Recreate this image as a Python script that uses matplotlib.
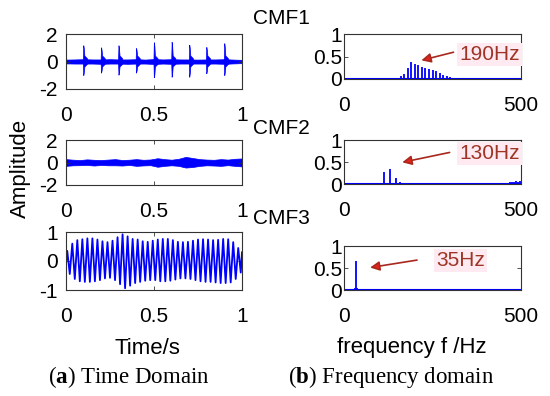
import numpy as np
import matplotlib
matplotlib.use('Agg')
import matplotlib.pyplot as plt

plt.rcParams['font.family'] = ['Liberation Sans', 'DejaVu Sans']
plt.rcParams['axes.unicode_minus'] = False
plt.rcParams['mathtext.fontset'] = 'custom'
plt.rcParams['mathtext.rm'] = 'Liberation Serif'
plt.rcParams['mathtext.bf'] = 'Liberation Serif:bold'

# ---- time domain data ----
# CMF1: impulses every ~0.1 s on a small noise band
cmf1_spike_t = [0.102, 0.203, 0.302, 0.402, 0.503, 0.604, 0.704, 0.801, 0.903]
cmf1_spike_up = [1.15, 1.0, 1.15, 0.95, 1.37, 1.4, 1.2, 1.03, 1.3]
cmf1_spike_dn = [-1.03, -0.85, -1.0, -0.85, -1.2, -1.15, -1.15, -0.9, -1.03]
cmf1_env_t = [0.0, 0.05, 0.1, 0.15, 0.2, 0.25, 0.3, 0.35, 0.4, 0.45, 0.5,
              0.55, 0.6, 0.65, 0.7, 0.75, 0.8, 0.85, 0.9, 0.95, 1.0]
cmf1_env_up = [0.14, 0.15, 0.17, 0.15, 0.15, 0.17, 0.15, 0.15, 0.17, 0.14, 0.18,
               0.15, 0.17, 0.15, 0.15, 0.14, 0.15, 0.15, 0.17, 0.14, 0.12]
cmf1_env_dn = [-0.14, -0.15, -0.15, -0.15, -0.17, -0.15, -0.15, -0.17, -0.15, -0.15, -0.18,
               -0.15, -0.17, -0.15, -0.15, -0.15, -0.15, -0.15, -0.17, -0.14, -0.12]

# CMF2: noise-like band
cmf2_env_t = [0.0, 0.04, 0.08, 0.12, 0.16, 0.2, 0.24, 0.28, 0.32, 0.36, 0.4,
              0.44, 0.48, 0.52, 0.56, 0.6, 0.64, 0.68, 0.72, 0.76, 0.8,
              0.84, 0.88, 0.92, 0.96, 1.0]
cmf2_env_up = [0.3, 0.25, 0.22, 0.28, 0.24, 0.22, 0.26, 0.3, 0.22, 0.25, 0.3,
               0.24, 0.27, 0.38, 0.3, 0.25, 0.33, 0.5, 0.4, 0.3, 0.26,
               0.24, 0.3, 0.26, 0.33, 0.36]
cmf2_env_dn = [-0.3, -0.25, -0.24, -0.22, -0.27, -0.22, -0.25, -0.25, -0.27, -0.22, -0.3,
               -0.26, -0.24, -0.38, -0.3, -0.25, -0.3, -0.45, -0.4, -0.3, -0.25,
               -0.27, -0.3, -0.24, -0.3, -0.35]

# CMF3: ~35 Hz oscillation, one peak and one trough per cycle
cmf3_peaks = [0.35, 0.6, 0.72, 0.75, 0.78, 0.78, 0.74, 0.68, 0.65, 0.7, 0.82, 0.92,
              0.85, 0.76, 0.74, 0.68, 0.66, 0.7, 0.74, 0.76, 0.76, 0.72, 0.66, 0.65,
              0.66, 0.7, 0.74, 0.75, 0.74, 0.72, 0.73, 0.76, 0.75, 0.65, 0.45]
cmf3_troughs = [-0.45, -0.62, -0.7, -0.72, -0.72, -0.7, -0.66, -0.6, -0.58, -0.66, -0.8, -0.94,
                -0.85, -0.76, -0.72, -0.68, -0.66, -0.66, -0.7, -0.7, -0.68, -0.64, -0.6, -0.6,
                -0.62, -0.66, -0.7, -0.72, -0.72, -0.74, -0.76, -0.76, -0.74, -0.62, -0.4]
cmf3_start = -0.1
cmf3_end = 0.3

# ---- frequency domain data ----
f1 = [120, 130, 140, 150, 160, 170, 180, 190, 200, 210, 220, 230, 240, 250, 260, 270, 280, 290, 300, 310, 320]
a1 = [0.01, 0.015, 0.02, 0.03, 0.06, 0.12, 0.24, 0.37, 0.33, 0.31, 0.27, 0.25, 0.22, 0.2,
      0.17, 0.13, 0.09, 0.06, 0.04, 0.02, 0.01]
f2 = [80, 100, 114, 130, 146, 157, 166, 455, 462, 468, 474, 480, 486, 492, 498]
a2 = [0.02, 0.01, 0.28, 0.33, 0.14, 0.04, 0.02, 0.02, 0.03, 0.04, 0.05, 0.05, 0.06, 0.05, 0.07]
f3 = [28, 32, 35, 38, 42, 46]
a3 = [0.02, 0.04, 0.66, 0.04, 0.03, 0.01]

names = ['CMF1', 'CMF2', 'CMF3']
peak_labels = ['190Hz', '130Hz', '35Hz']
# arrow tail/head and label position in data units
arrow_tail = [(317, 0.61), (306, 0.73), (214, 0.69)]
arrow_head = [(211, 0.40), (157, 0.48), (66, 0.50)]
label_pos = [(497, 0.55), (497, 0.70), (330, 0.67)]

W, H = 550, 396
fig = plt.figure(figsize=(W / 100, H / 100), dpi=100)


def box(x0, y0, x1, y1):
    return [x0 / W, 1 - y1 / H, (x1 - x0) / W, (y1 - y0) / H]


left_boxes = [box(66, 34, 242, 89), box(66, 140, 242, 185), box(66, 232, 242, 290)]
right_boxes = [box(344, 34, 521, 79), box(344, 140, 521, 184), box(344, 246, 521, 290)]

blue = '#0000ff'
fs = 15


def style(ax, ypad, xpad=12):
    for s in ax.spines.values():
        s.set_color('#333333')
        s.set_linewidth(0.8)
    ax.tick_params(direction='in', top=True, right=True, length=3, width=0.6,
                   color='#333333', labelsize=fs)
    ax.tick_params(axis='x', pad=xpad)
    ax.tick_params(axis='y', pad=ypad)


# left column
axL = [fig.add_axes(b) for b in left_boxes]

ax = axL[0]
ax.fill_between(cmf1_env_t, cmf1_env_dn, cmf1_env_up, color=blue, lw=0.5)
for t, u, d in zip(cmf1_spike_t, cmf1_spike_up, cmf1_spike_dn):
    xs = [t - 0.003, t - 0.001, t + 0.002, t + 0.005, t + 0.02, t + 0.02, t + 0.005, t + 0.002, t - 0.001, t - 0.003]
    ys = [0.25, u, u * 0.8, 0.4, 0.2, -0.2, -0.4, d * 0.8, d, -0.25]
    ax.fill(xs, ys, color=blue, lw=0.5)
ax.set_ylim(-2, 2)
ax.set_yticks([-2, 0, 2])

ax = axL[1]
ax.fill_between(cmf2_env_t, cmf2_env_dn, cmf2_env_up, color=blue, lw=0.5)
ax.set_ylim(-2, 2)
ax.set_yticks([-2, 0, 2])

ax = axL[2]
n = len(cmf3_peaks)
tt = [0.0]
yy = [cmf3_start]
for k in range(n):
    tt += [(k + 0.25) / n, (k + 0.75) / n]
    yy += [cmf3_peaks[k], cmf3_troughs[k]]
tt.append(1.0)
yy.append(cmf3_end)
ax.plot(tt, yy, color=blue, lw=1.3)
ax.set_ylim(-1, 1)
ax.set_yticks([-1, 0, 1])

for ax in axL:
    ax.set_xlim(0, 1)
    ax.set_xticks([0, 0.5, 1])
    ax.set_xticklabels(['0', '0.5', '1'])
    style(ax, ypad=6)

# right column
axR = [fig.add_axes(b) for b in right_boxes]
for i, (ax, f, a) in enumerate(zip(axR, [f1, f2, f3], [a1, a2, a3])):
    ax.vlines(f, 0, a, color=blue, lw=1.3)
    ax.axhline(0, color=blue, lw=1.5)
    ax.set_xlim(0, 500)
    ax.set_ylim(0, 1)
    ax.set_xticks([0, 500])
    ax.set_yticks([0, 0.5, 1])
    ax.set_yticklabels(['0', '0.5', '1'])
    style(ax, ypad=1.5)
    ax.annotate('', xy=arrow_head[i], xytext=arrow_tail[i],
                arrowprops=dict(arrowstyle='-|>', mutation_scale=14, lw=1.2,
                                ec='#a8281e', fc='#e3231b'))
    ax.text(label_pos[i][0], label_pos[i][1], peak_labels[i], fontsize=fs,
            color='#9e3425', ha='right' if i < 2 else 'center', va='center',
            bbox=dict(fc='#feeaf0', ec='none', pad=1.5))

# titles and labels
for name, yc in zip(names, [19, 128, 218]):
    fig.text(281 / W, 1 - yc / H, name, fontsize=fs, ha='center', va='center')
fig.text(20 / W, 1 - 168 / H, 'Amplitude', fontsize=16, rotation=90, ha='center', va='center')
fig.text(147 / W, 1 - 348 / H, 'Time/s', fontsize=16, ha='center', va='center')
fig.text(412 / W, 1 - 348 / H, 'frequency f /Hz', fontsize=16, ha='center', va='center')

cap = dict(fontsize=16.5, ha='center', va='center', family='Liberation Serif')
fig.text(129 / W, 1 - 377 / H, r'($\mathbf{a}$) Time Domain', **cap)
fig.text(391 / W, 1 - 377 / H, r'($\mathbf{b}$) Frequency domain', **cap)

fig.savefig('out.png', dpi=100)
